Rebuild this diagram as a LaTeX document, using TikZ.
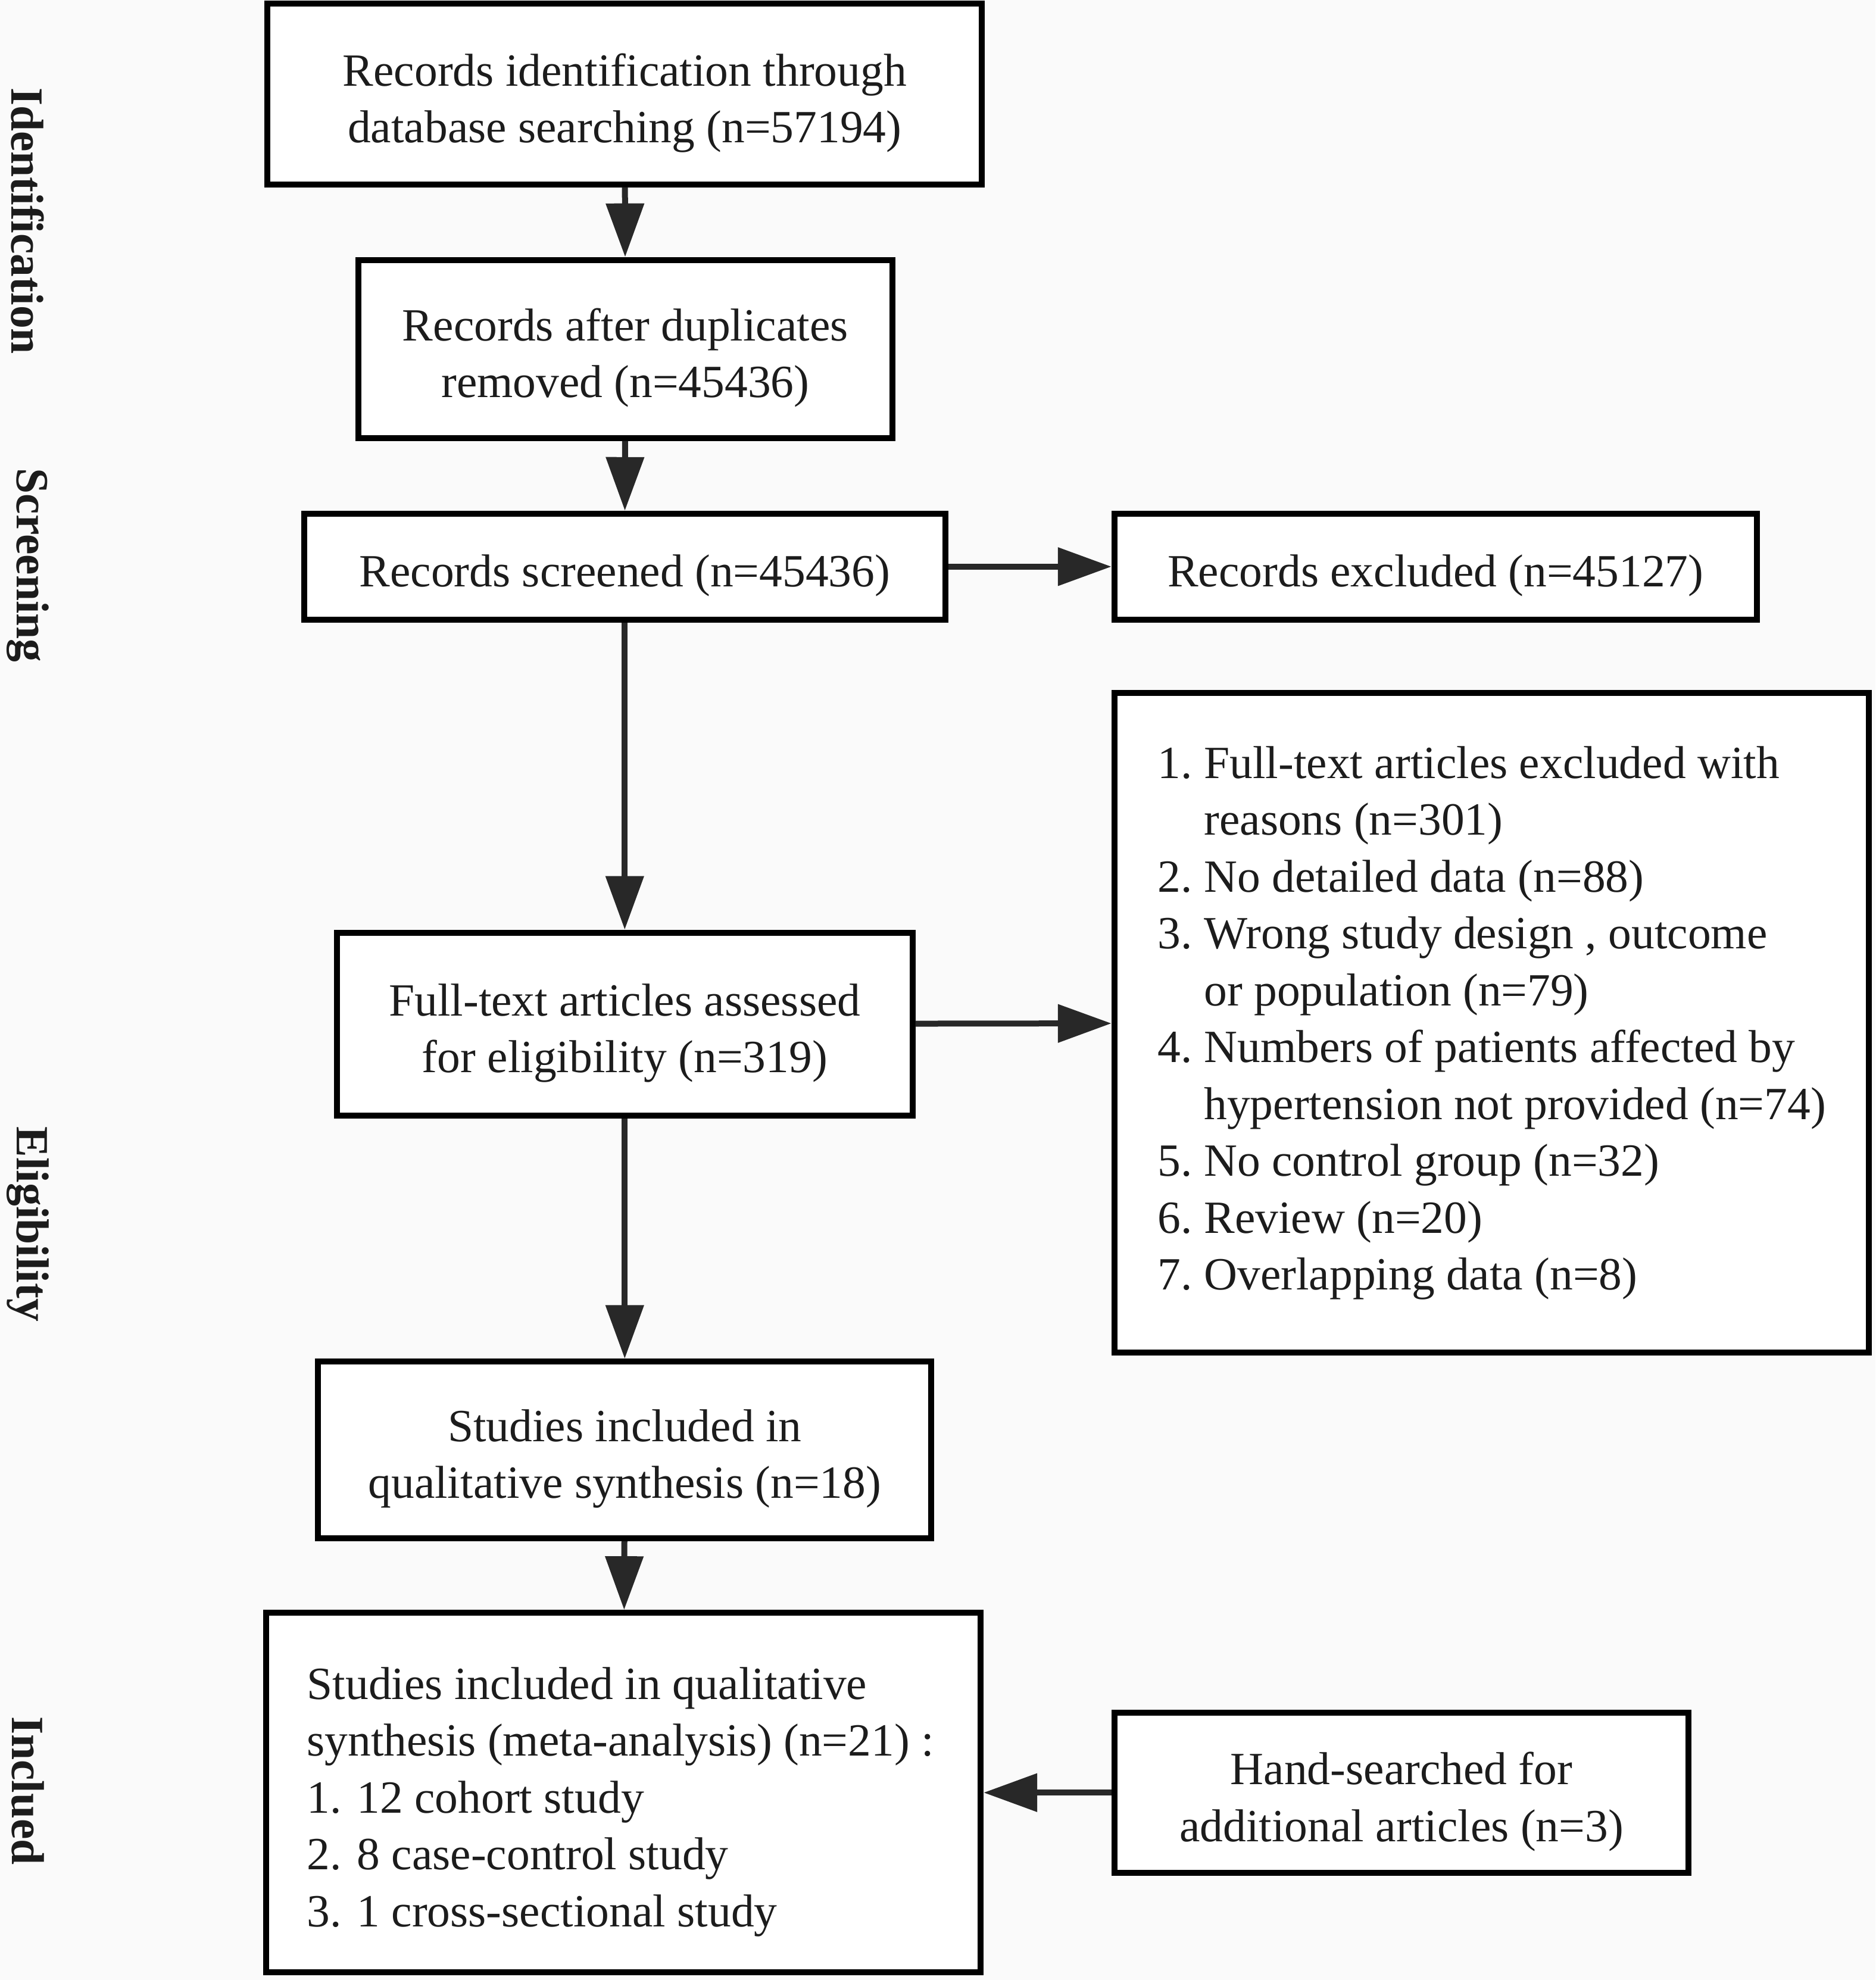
\documentclass[tikz,border=0pt]{standalone}
\usepackage{fontspec}
\setmainfont{Liberation Serif}
\usetikzlibrary{arrows.meta}
\definecolor{bgc}{RGB}{250,250,250}
\definecolor{txt}{RGB}{28,28,28}
\definecolor{arr}{RGB}{40,40,40}
\begin{document}
\begin{tikzpicture}[x=0.42396pt,y=-0.42396pt,
  box/.style 2 args={draw=black,line width=2pt,fill=white,inner sep=0pt,
    minimum width=#1*0.42396pt,minimum height=#2*0.42396pt},
  lab/.style={align=center,text=txt,font=\fontsize{15.5pt}{19.1pt}\selectfont,yshift=-3pt,inner sep=0pt},
  sidelab/.style={rotate=-90,text=txt,font=\fontsize{15.5pt}{19.1pt}\selectfont\bfseries},
  conn/.style={draw=arr,line width=2pt,-{Triangle[length=18pt,width=12.5pt]}}]
\fill[bgc] (0,0) rectangle (1486,1569);
\useasboundingbox (0,0) rectangle (1486,1569);

\node[sidelab] (lid) at (22,175) {Identification};
\node[sidelab] (lsc) at (22,448) {Screening};
\node[sidelab] (lel) at (22,970) {Eligibility};
\node[sidelab] (lin) at (22,1419) {Inclued};

\node[box={566}{143},label={[lab]center:Records identification through\\database searching (n=57194)}] (b1) at (495,74.5) {};
\node[box={423}{141},label={[lab]center:Records after duplicates\\removed (n=45436)}] (b2) at (495.5,276.5) {};
\node[box={508}{84},label={[lab]center:Records screened (n=45436)}] (b3) at (495,449) {};
\node[box={509}{84},label={[lab]center:Records excluded (n=45127)}] (b4) at (1137.5,449) {};
\node[box={456}{145},label={[lab]center:Full-text articles assessed\\for eligibility (n=319)}] (b5) at (495,811.5) {};
\node[box={598}{523},label={[lab,yshift=3pt]center:{\begin{tabular}{@{}r@{\hspace{4pt}}l@{}}
1. & Full-text articles excluded with\\
   & reasons (n=301)\\
2. & No detailed data (n=88)\\
3. & Wrong study design , outcome\\
   & or population (n=79)\\
4. & Numbers of patients affected by\\
   & hypertension not provided (n=74)\\
5. & No control group (n=32)\\
6. & Review (n=20)\\
7. & Overlapping data (n=8)
\end{tabular}}}] (b6) at (1182,810.5) {};
\node[box={486}{140},label={[lab]center:Studies included in\\qualitative synthesis (n=18)}] (b7) at (495,1149) {};
\node[box={566}{285},label={[lab,xshift=-1pt]center:{\begin{tabular}{@{}l@{}}
Studies included in qualitative\\
synthesis (meta-analysis) (n=21) :\\
1. 12 cohort study\\
2. 8 case-control study\\
3. 1 cross-sectional study
\end{tabular}}}] (b8) at (494,1420.5) {};
\node[box={455}{127},label={[lab]center:Hand-searched for\\additional articles (n=3)}] (b9) at (1110.5,1420.5) {};

\draw[conn] (b1) -- (b2);
\draw[conn] (b2) -- (b3);
\draw[conn] (b3) -- (b4);
\draw[conn] (b3) -- (b5);
\draw[conn] (b5) -- (b6);
\draw[conn] (b5) -- (b7);
\draw[conn] (b7) -- (b8);
\draw[conn] (b9) -- (b8);
\end{tikzpicture}
\end{document}
